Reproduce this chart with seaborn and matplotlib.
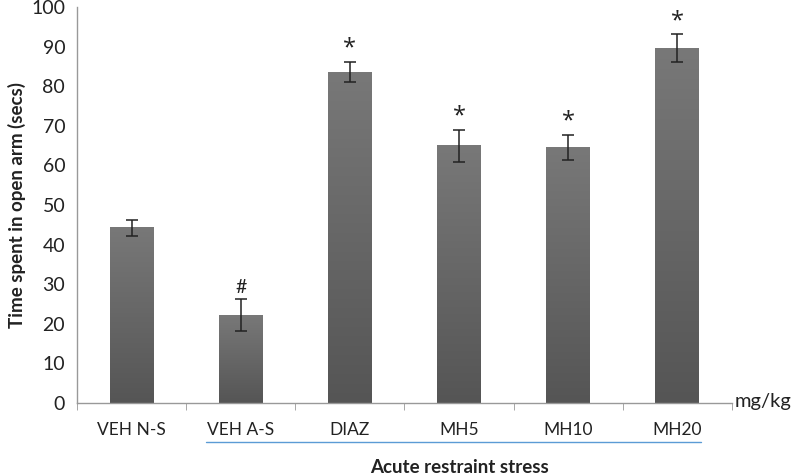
import numpy as np
import pandas as pd
import matplotlib.pyplot as plt
from matplotlib.colors import LinearSegmentedColormap
import seaborn as sns

# DATA
groups = ['VEH N-S', 'VEH A-S', 'DIAZ', 'MH5', 'MH10', 'MH20']
means = [44.3, 22.2, 83.6, 65.0, 64.6, 89.6]
errors = [2.0, 4.1, 2.6, 4.0, 3.2, 3.5]
marks = ['', '#', '*', '*', '*', '*']

df = pd.DataFrame({'group': groups, 'time': means})

sns.set_style('white')
plt.rcParams['font.family'] = ['Lato', 'DejaVu Sans']

fig = plt.figure(figsize=(7.99, 4.75), dpi=100)
ax = fig.add_axes([0.0964, 0.1516, 0.8196, 0.8334])

sns.barplot(data=df, x='group', y='time', color='#666666', width=0.4,
            saturation=1, edgecolor='none', ax=ax)

# vertical gradient on bars (lighter top, darker bottom)
grad_cmap = LinearSegmentedColormap.from_list('g', ['#555555', '#787878'])
grad = np.linspace(0, 1, 256).reshape(-1, 1)
for p in ax.patches:
    x0, y0 = p.get_x(), p.get_y()
    w, h = p.get_width(), p.get_height()
    ax.imshow(grad, cmap=grad_cmap, origin='lower', aspect='auto',
              extent=(x0, x0 + w, y0, y0 + h), clip_path=p, zorder=p.get_zorder())

ax.errorbar(range(len(groups)), means, yerr=errors, fmt='none',
            ecolor='#222222', elinewidth=1.1, capsize=4, capthick=1.1, zorder=5)

# SIGNIFICANCE MARKS
for i, m in enumerate(marks):
    if m == '*':
        ax.annotate(m, (i, means[i] + errors[i]), xytext=(0, 1),
                    textcoords='offset points', ha='center', va='bottom',
                    fontsize=17, color='#222222', family='Open Sans')
    elif m:
        ax.annotate(m, (i, means[i] + errors[i]), xytext=(0, 2),
                    textcoords='offset points', ha='center', va='bottom',
                    fontsize=14, color='#222222')

ax.set_ylim(0, 100)
ax.set_yticks(range(0, 101, 10))
ax.set_xlim(-0.5, len(groups) - 0.5)
ax.set_xticks(range(len(groups)))
ax.set_xticks([i - 0.5 for i in range(len(groups) + 1)], minor=True)
ax.tick_params(axis='x', which='major', length=0, pad=14, labelsize=12.5,
               labelcolor='#222222')
ax.tick_params(axis='x', which='minor', length=5, color='#999999',
               direction='out', bottom=True)
ax.tick_params(axis='y', length=5, color='#999999', direction='out',
               labelsize=14, labelcolor='#222222')

sns.despine(ax=ax)
for s in ['left', 'bottom']:
    ax.spines[s].set_color('#999999')
    ax.spines[s].set_linewidth(1)

ax.set_xlabel('')
ax.set_ylabel('Time spent in open arm (secs)', fontsize=13.5,
              fontweight='bold', color='#222222', labelpad=4)

# GROUP LINE AND LABELS
ax.plot([0.68, 5.22], [-0.098, -0.098], transform=ax.get_xaxis_transform(),
        color='#5b9bd5', lw=1, clip_on=False)
ax.text(3, -0.163, 'Acute restraint stress', transform=ax.get_xaxis_transform(),
        ha='center', va='center', fontsize=13.5, fontweight='bold',
        color='#222222')
ax.text(1.004, 0.005, 'mg/kg', transform=ax.transAxes, ha='left',
        va='center', fontsize=14.5, color='#222222')

plt.savefig('out.png', dpi=100)
